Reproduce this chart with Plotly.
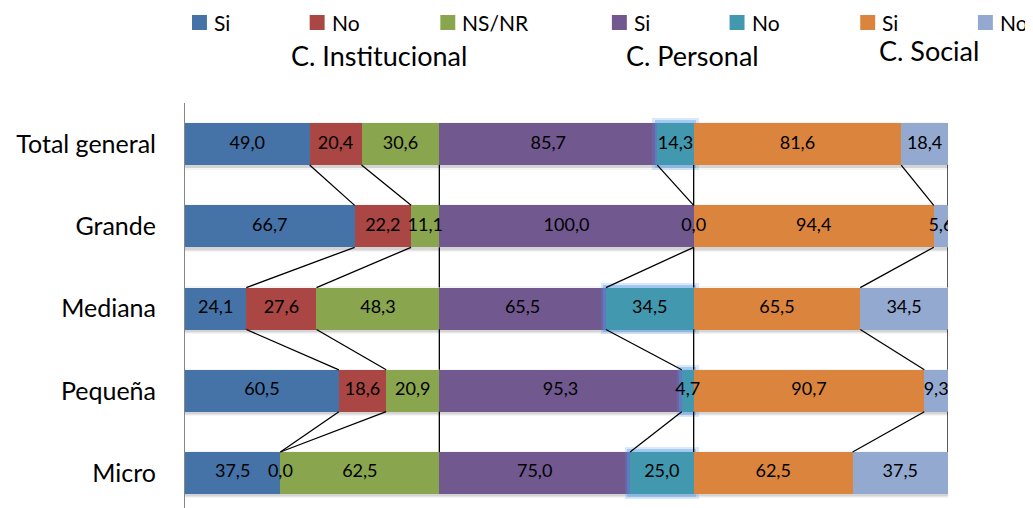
import numpy as np
import plotly.graph_objects as go

# ---------------- data ----------------
categories = ["Total general", "Grande", "Mediana", "Pequeña", "Micro"]
inst_si = [49.0, 66.7, 24.1, 60.5, 37.5]
inst_no = [20.4, 22.2, 27.6, 18.6, 0.0]
inst_nsnr = [30.6, 11.1, 48.3, 20.9, 62.5]
pers_si = [85.7, 100.0, 65.5, 95.3, 75.0]
pers_no = [14.3, 0.0, 34.5, 4.7, 25.0]
soc_si = [81.6, 94.4, 65.5, 90.7, 62.5]
soc_no = [18.4, 5.6, 34.5, 9.3, 37.5]
series_names = ["Si", "No", "NS/NR", "Si", "No", "Si", "No"]
group_titles = ["C. Institucional", "C. Personal", "C. Social"]

# ---------------- styles ----------------
colors = ["#4572A7", "#AA4643", "#89A54E", "#71588F", "#4198AF", "#DB843D", "#93A9CF"]
FONT = "Lato"
W, H = 1033, 508
OFF = 8  # page body margin offset
ML, MT = 183 - OFF, 103 - OFF
MR = W - (948 - OFF)
MB = OFF
BAR_W = 0.51

series = [inst_si, inst_no, inst_nsnr, pers_si, pers_no, soc_si, soc_no]
vals = np.array(series, dtype=float)
ends = np.cumsum(vals, axis=0)
bases = ends - vals
ys = np.arange(len(categories))

fig = go.Figure()

# soft shadow behind each row
for grow, op in [(0.07, 0.04), (0.04, 0.06), (0.02, 0.08)]:
    fig.add_trace(go.Bar(
        y=ys + 0.02, x=ends[-1] + 1.2, base=np.zeros(len(ys)) - 0.3, orientation="h",
        width=BAR_W + grow, marker=dict(color=f"rgba(0,0,0,{op})", line=dict(width=0)),
        showlegend=False, hoverinfo="skip"))

for k, (name, v) in enumerate(zip(series_names, series)):
    if k == 4:
        # glow around teal segments
        nz = vals[4] > 0
        for grow, dx, op in [(0.12, 2.0, 0.22), (0.07, 1.1, 0.38)]:
            fig.add_trace(go.Bar(
                y=ys[nz], x=vals[4][nz] + 2 * dx, base=bases[4][nz] - dx, orientation="h",
                width=BAR_W + grow, marker=dict(color=f"rgba(80,155,235,{op})", line=dict(width=0)),
                showlegend=False, hoverinfo="skip"))
    fig.add_trace(go.Bar(
        y=ys, x=v, base=bases[k], orientation="h", name=name, width=BAR_W,
        marker=dict(color=colors[k], line=dict(width=0)), showlegend=False))

# series lines connecting segment ends between rows
lx, ly = [], []
for k in range(len(series)):
    for i in range(len(categories) - 1):
        lx += [ends[k][i], ends[k][i + 1], None]
        ly += [ys[i] + BAR_W / 2, ys[i + 1] - BAR_W / 2, None]
fig.add_trace(go.Scatter(x=lx, y=ly, mode="lines", line=dict(color="black", width=1.3),
                         showlegend=False, hoverinfo="skip"))

# data labels
tx, ty, tt = [], [], []
for k in range(len(series)):
    for i in range(len(categories)):
        tx.append(bases[k][i] + vals[k][i] / 2)
        ty.append(ys[i])
        tt.append(f"{vals[k][i]:.1f}".replace(".", ","))
fig.add_trace(go.Scatter(x=tx, y=ty, text=tt, mode="text", textposition="middle center",
                         textfont=dict(family=FONT, size=18, color="black"),
                         showlegend=False, hoverinfo="skip"))

PW = W - ML - MR
PH = H - MT - MB
def px_x(p):
    return (p - OFF - ML) / PW
def px_y(p):
    return (H - MB - (p - OFF)) / PH

# legend (squares + labels)
sq_left = [190, 308, 439, 611, 729, 860, 978]
shapes, annos = [], []
for k, name in enumerate(series_names):
    x0 = sq_left[k]
    shapes.append(dict(type="rect", xref="paper", yref="paper",
                       x0=px_x(x0), x1=px_x(x0 + 15), y0=px_y(30), y1=px_y(15),
                       fillcolor=colors[k], line=dict(width=0)))
    annos.append(dict(text=name, xref="paper", yref="paper", x=px_x(x0 + 20), y=px_y(22),
                      xanchor="left", yanchor="middle", showarrow=False,
                      font=dict(family=FONT, size=21, color="black")))

title_pos = [(378, 55), (692, 55), (929, 50)]
for t, (cx, cy) in zip(group_titles, title_pos):
    annos.append(dict(text=t, xref="paper", yref="paper", x=px_x(cx), y=px_y(cy),
                      xanchor="center", yanchor="middle", showarrow=False,
                      font=dict(family=FONT, size=27, color="black")))

fig.update_layout(
    width=W, height=H, margin=dict(l=ML, r=MR, t=MT, b=MB, pad=0),
    barmode="overlay", bargap=0, plot_bgcolor="white", paper_bgcolor="white",
    xaxis=dict(range=[0, 300], visible=False, fixedrange=True),
    yaxis=dict(range=[4.426, -0.5], tickvals=list(ys), ticktext=categories,
               showline=True, linecolor="#868686", linewidth=1, showgrid=False,
               zeroline=False, ticks="", ticklabelstandoff=23,
               tickfont=dict(family=FONT, size=25, color="black")),
    shapes=shapes, annotations=annos, showlegend=False,
)

fig.write_html("out.html")
